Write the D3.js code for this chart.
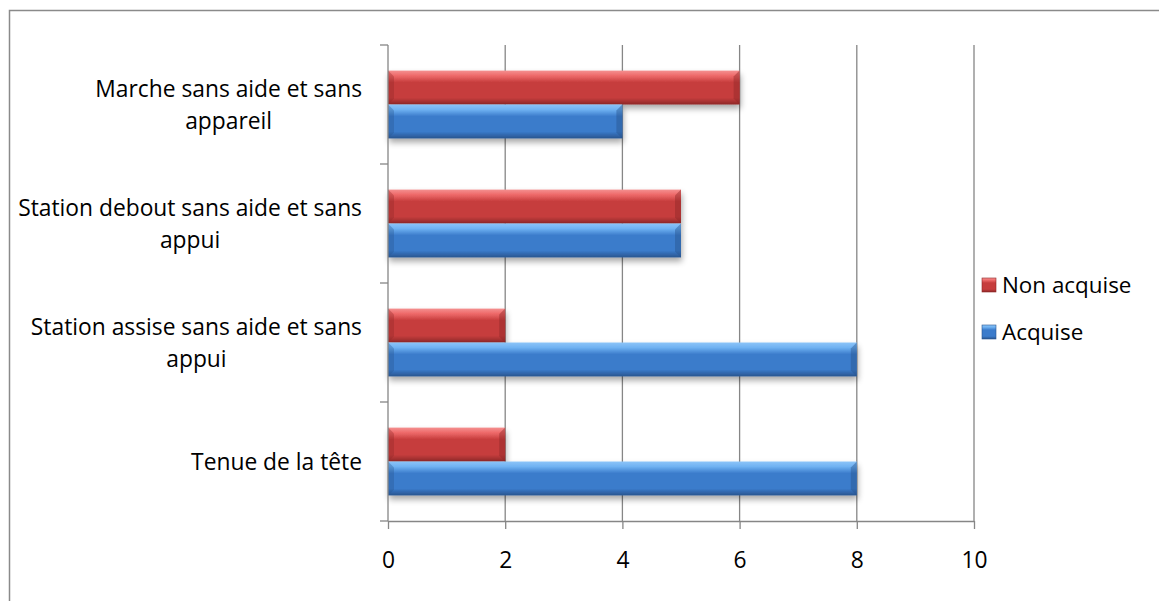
<!DOCTYPE html>
<html><head><meta charset="utf-8">
<script src="https://cdn.jsdelivr.net/npm/d3@7"></script>
<style>body{margin:0;background:#fff}svg{display:block}text{font-family:"Open Sans",sans-serif;fill:#000}</style>
</head><body><svg id="c" width="1159" height="601"></svg>
<script>
const categories = ["Marche sans aide et sans appareil","Station debout sans aide et sans appui","Station assise sans aide et sans appui","Tenue de la tête"];
const labelLines = [["Marche sans aide et sans","appareil"],["Station debout sans aide et sans","appui"],["Station assise sans aide et sans","appui"],["Tenue de la tête"]];
const seriesNames = ["Non acquise","Acquise"];
const nonAcquise = [6,5,2,2];
const acquise = [4,5,8,8];
const xTicks = [0,2,4,6,8,10];

const svg = d3.select("#c");
const W=1159,H=601;
const FS=22.8;
const plot={l:388,r:974,t:45,b:521};
const x=d3.scaleLinear().domain([0,10]).range([plot.l,plot.r]);
const y=d3.scaleBand().domain(categories).range([plot.t,plot.b]);
const inner=d3.scaleBand().domain(seriesNames).range([y.bandwidth()*0.215,y.bandwidth()*0.785]);
const colors={"Non acquise":{hi:"#ee6a6a",mid:"#c63d3d",lo:"#8e2727",top:"#f49090"},"Acquise":{hi:"#6fb2f2",mid:"#3b7bcb",lo:"#28558f",top:"#8cc4f8"}};

const defs=svg.append("defs");
seriesNames.forEach((s,i)=>{
  const c=colors[s];
  const g=defs.append("linearGradient").attr("id","g"+i).attr("x1",0).attr("y1",0).attr("x2",0).attr("y2",1);
  g.append("stop").attr("offset","0%").attr("stop-color",c.top);
  g.append("stop").attr("offset","15%").attr("stop-color",c.hi);
  g.append("stop").attr("offset","35%").attr("stop-color",c.mid);
  g.append("stop").attr("offset","80%").attr("stop-color",c.mid);
  g.append("stop").attr("offset","100%").attr("stop-color",c.lo);
});
const f=defs.append("filter").attr("id","sh").attr("x","-5%").attr("y","-20%").attr("width","115%").attr("height","160%");
f.append("feGaussianBlur").attr("in","SourceAlpha").attr("stdDeviation",3);
f.append("feOffset").attr("dx",1).attr("dy",4).attr("result","b");
f.append("feComponentTransfer").append("feFuncA").attr("type","linear").attr("slope",0.35);
const fm=f.append("feMerge");fm.append("feMergeNode");fm.append("feMergeNode").attr("in","SourceGraphic");

// border
svg.append("path").attr("d",`M9.5,${H} V10.5 H${W}`).attr("fill","none").attr("stroke","#8a8a8a").attr("stroke-width",1.5);

// gridlines
svg.append("g").selectAll("line").data(xTicks.slice(1)).join("line")
  .attr("x1",d=>x(d)).attr("x2",d=>x(d)).attr("y1",plot.t).attr("y2",plot.b)
  .attr("stroke","#868686").attr("stroke-width",1.3);

// bars
const data=[];
categories.forEach((c,i)=>{data.push({c,s:"Non acquise",v:nonAcquise[i],k:0});data.push({c,s:"Acquise",v:acquise[i],k:1});});
const bars=svg.append("g").selectAll("g").data(data).join("g")
  .attr("transform",d=>`translate(${x(0)},${y(d.c)+inner(d.s)})`);
bars.append("rect").attr("width",d=>x(d.v)-x(0)).attr("height",inner.bandwidth())
  .attr("fill",d=>`url(#g${d.k})`).attr("filter","url(#sh)");
bars.append("path").attr("d",d=>{const w=x(d.v)-x(0),h=inner.bandwidth();return `M${w},0 L${w},${h} L${w-6},${h-6} L${w-6},6 Z`;})
  .attr("fill",d=>colors[d.s].lo).attr("opacity",0.45);
bars.append("path").attr("d",d=>{const h=inner.bandwidth();return `M0,0 L6,6 L6,${h-6} L0,${h} Z`;})
  .attr("fill",d=>colors[d.s].lo).attr("opacity",0.35);

// y axis
svg.append("line").attr("x1",plot.l).attr("x2",plot.l).attr("y1",plot.t).attr("y2",plot.b).attr("stroke","#868686").attr("stroke-width",1.3);
const bounds=categories.map(c=>y(c)).concat([plot.b]);
svg.append("g").selectAll("line").data(bounds).join("line")
  .attr("x1",plot.l-8).attr("x2",plot.l).attr("y1",d=>d).attr("y2",d=>d).attr("stroke","#868686").attr("stroke-width",1.3);

// x axis
const xa=svg.append("g").attr("transform",`translate(0,${plot.b})`)
  .call(d3.axisBottom(x).tickValues(xTicks).tickSize(8).tickSizeOuter(0).tickPadding(23));
xa.select(".domain").attr("stroke","#868686").attr("stroke-width",1.3);
xa.selectAll(".tick line").attr("stroke","#868686").attr("stroke-width",1.3);
xa.selectAll(".tick text").attr("font-size",FS).attr("font-family","'Open Sans',sans-serif").attr("fill","#000");

// category labels
const lg=svg.append("g");
categories.forEach((c,i)=>{
  const lines=labelLines[i];
  const cy=y(c)+y.bandwidth()/2;
  const t=lg.append("text").attr("font-size",FS).attr("text-anchor","middle");
  lines.forEach(ln=>t.append("tspan").text(ln));
  const widths=lines.map(ln=>{const tmp=lg.append("text").attr("font-size",FS).text(ln);const w=tmp.node().getComputedTextLength();tmp.remove();return w;});
  const maxW=d3.max(widths);
  const cx=362-maxW/2;
  const lh=32;
  const y0=cy-(lines.length-1)*lh/2+8;
  t.selectAll("tspan").attr("x",cx).attr("y",(d,j)=>y0+j*lh);
});

// legend
const leg=svg.append("g");
seriesNames.forEach((s,i)=>{
  const ly=285+i*47;
  const c=colors[s];
  leg.append("rect").attr("x",982).attr("y",ly-7).attr("width",14).attr("height",14).attr("fill",`url(#g${i})`).attr("stroke",c.lo).attr("stroke-width",0.6);
  leg.append("text").attr("x",1002).attr("y",ly+8).attr("font-size",FS-0.4).text(s);
});
</script></body></html>
